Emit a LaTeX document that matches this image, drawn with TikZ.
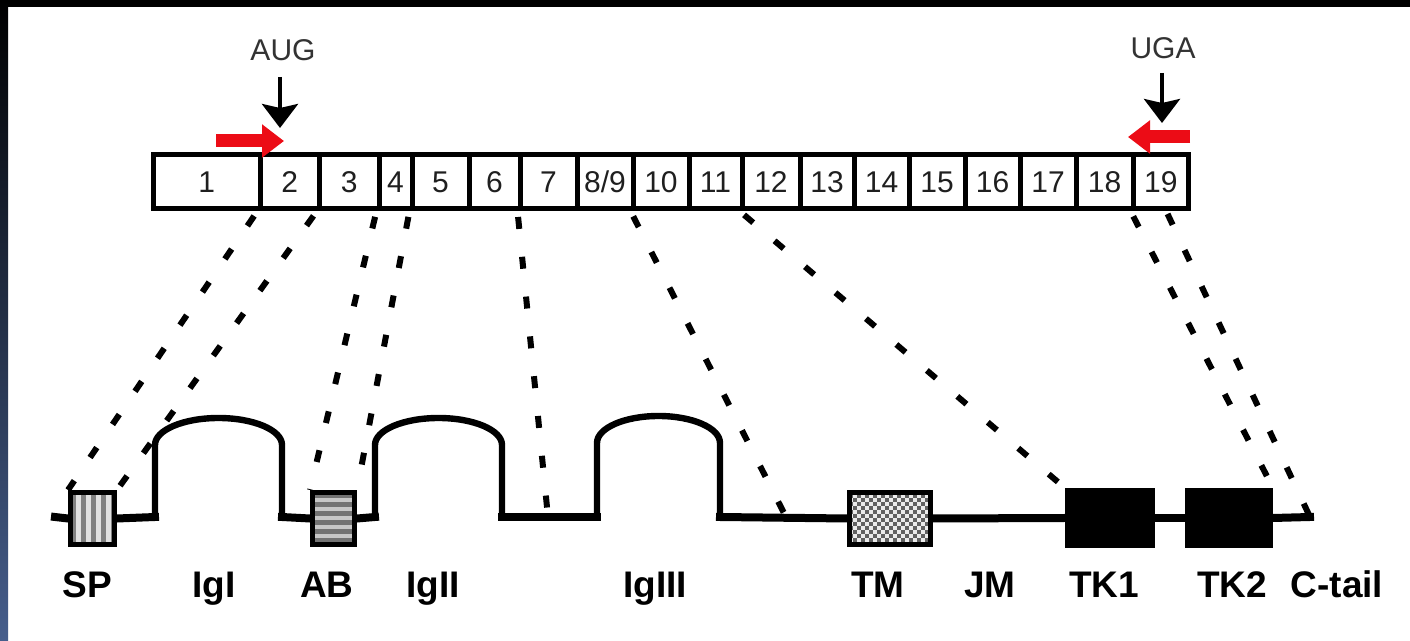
\documentclass[tikz,border=0pt]{standalone}
\usepackage{fontspec}
\setmainfont{Liberation Sans}
\usetikzlibrary{arrows.meta}
\definecolor{primerred}{RGB}{236,12,22}
\definecolor{framebot}{RGB}{70,94,140}
\definecolor{framemid}{RGB}{18,24,38}
\begin{document}
\begin{tikzpicture}[x=0.5pt,y=-0.5pt,
  exon/.style={draw, line width=2.5pt, rectangle, inner sep=0pt,
    minimum height=26.75pt, text height=10.7pt, text depth=0pt,
    text=black!88, font=\fontsize{15}{18}\selectfont},
  dombox/.style={draw, line width=2.5pt, rectangle, inner sep=0pt},
  kinase/.style={dombox, fill=black},
  prot/.style={line width=4pt, line cap=rect},
  loopline/.style={line width=3.2pt, line cap=rect},
  link/.style={line width=3pt, dash pattern=on 6pt off 14pt, shorten <=3pt},
  codon/.style={font=\fontsize{15}{18}\selectfont, text=black!80},
  startstop/.style={line width=2pt, -{Stealth[length=12pt,width=18pt,inset=2pt]}},
  primer/.style={draw=primerred, line width=6.5pt, -{Triangle[length=11pt,width=16pt]}},
  dlabel/.style={anchor=base, font=\bfseries\fontsize{18.5}{22}\selectfont}
]
\useasboundingbox (0,0) rectangle (1410,641);
\fill[white] (0,0) rectangle (1410,641);
% frame edges
\fill[black] (0,0) rectangle (1410,7);
\shade[top color=black, middle color=framemid, bottom color=framebot] (0,0) rectangle (8,641);

% ---- exon map ----
\foreach \l/\r/\t/\n in {153.5/260/1/e1, 260/319.5/2/e2, 319.5/379/3/e3, 379/412/4/e4,
    412/469/5/e5, 469/520/6/e6, 520/577/7/e7, 633/689/10/e10, 689/742/11/e11,
    742/800/12/e12, 800/854/13/e13, 854/909/14/e14, 909/965/15/e15, 965/1020/16/e16,
    1020/1076/17/e17, 1076/1133/18/e18, 1133/1188.5/19/e19}
  \node[exon, minimum width={(\r-\l)*0.5pt}] (\n) at ({(\l+\r)/2},181.75) {\t};
\node[exon, minimum width=28pt] (e89) at (605,181.75) {8/9};

% start / stop codons
\node[codon] (aug) at (283,50) {AUG};
\node[codon] (uga) at (1163,48) {UGA};
\coordinate (augtail) at (280,77);
\coordinate (augtip) at (280,128);
\coordinate (ugatail) at (1162,73);
\coordinate (ugatip) at (1162,123);
\draw[startstop] (augtail) -- (augtip);
\draw[startstop] (ugatail) -- (ugatip);

% primers
\coordinate (fwdtail) at (216,141);
\coordinate (fwdtip) at (284,141);
\coordinate (revtail) at (1190,137);
\coordinate (revtip) at (1128,137);
\draw[primer] (fwdtail) -- (fwdtip);
\draw[primer] (revtail) -- (revtip);

% ---- protein domains ----
% SP: vertical stripes
\fill[black!50] (72,494) rectangle (113,543);
\foreach \k in {0,...,3} \fill[black!12] ({76+\k*10},494) rectangle ++(5,49);
% AB: horizontal stripes
\fill[black!55] (312,494) rectangle (356,543);
\foreach \k in {0,...,4} \fill[black!22] (312,{498+\k*9}) rectangle ++(44,4);
% TM: checkerboard
\begin{scope}
  \clip (849,494) rectangle (932,543);
  \fill[black!8] (849,494) rectangle (932,543);
  \foreach \j in {0,...,12}
    \foreach \i in {0,2,...,20}
      \fill[black!62] ({849+4*(\i+mod(\j,2))},{494+4*\j}) rectangle ++(4,4);
\end{scope}

\node[dombox, minimum width=22pt, minimum height=26pt] (sp) at (92.5,518.5) {};
\node[dombox, minimum width=21pt, minimum height=26pt] (ab) at (333.5,518.5) {};
\node[dombox, minimum width=40.5pt, minimum height=26pt] (tm) at (890,518.5) {};
\node[kinase, minimum width=42.5pt, minimum height=27.5pt] (tk1) at (1110,518) {};
\node[kinase, minimum width=41.5pt, minimum height=27.5pt] (tk2) at (1229,518) {};

\coordinate (nstart) at (55,517);
\coordinate (i1a) at (155,517);
\coordinate (i1b) at (282,517);
\coordinate (i2a) at (375,517);
\coordinate (i2b) at (502,517);
\coordinate (i3a) at (597,517);
\coordinate (i3b) at (720,517);
\coordinate (cend) at (1310,517);

\draw[prot] (nstart) -- (sp.west);
\draw[prot] (sp.east) -- (i1a);
% Ig loops: straight sides with a half-ellipse on top
\draw[loopline] (i1a) -- (155,445)
  .. controls (155,430) and (183.5,418) .. (218.5,418)
  .. controls (253.5,418) and (282,430) .. (282,445) -- (i1b);
\draw[prot] (i1b) -- (ab.west);
\draw[prot] (ab.east) -- (i2a);
\draw[loopline] (i2a) -- (375,445)
  .. controls (375,430) and (403.5,418) .. (438.5,418)
  .. controls (473.5,418) and (502,430) .. (502,445) -- (i2b);
\draw[prot] (i2b) -- (i3a);
\draw[loopline] (i3a) -- (597,443)
  .. controls (597,428) and (624.5,416) .. (658.5,416)
  .. controls (692.5,416) and (720,428) .. (720,443) -- (i3b);
\draw[prot] (i3b) -- (tm.west);
\draw[prot] (tm.east) -- (tk1.west);
\draw[prot] (tk1.east) -- (tk2.west);
\draw[prot] (tk2.east) -- (cend);

% ---- exon-to-domain correspondence ----
\coordinate (d5) at (548,517);
\coordinate (d6) at (786,517);
\coordinate (u19) at (1165,208.5);
\draw[link] (e2.south west) -- (sp.north west);
\draw[link] (e3.south west) -- (sp.north east);
\draw[link] (e4.south west) -- (ab.north west);
\draw[link] (e5.south west) -- (ab.north east);
\draw[link] (e7.south west) -- (d5);
\draw[link] (e10.south west) -- (d6);
\draw[link] (e12.south west) -- (tk1.north west);
\draw[link] (e19.south west) -- (tk2.north east);
\draw[link] (u19) -- (cend);

% ---- domain names ----
\node[dlabel] (lsp) at (87,598) {SP};
\node[dlabel] (lig1) at (214,598) {IgI};
\node[dlabel] (lab) at (327,598) {AB};
\node[dlabel] (lig2) at (433,598) {IgII};
\node[dlabel] (lig3) at (655,598) {IgIII};
\node[dlabel] (ltm) at (878,598) {TM};
\node[dlabel] (ljm) at (990,598) {JM};
\node[dlabel] (ltk1) at (1104,598) {TK1};
\node[dlabel] (ltk2) at (1232,598) {TK2};
\node[dlabel] (lct) at (1337,598) {C-tail};
\end{tikzpicture}
\end{document}
